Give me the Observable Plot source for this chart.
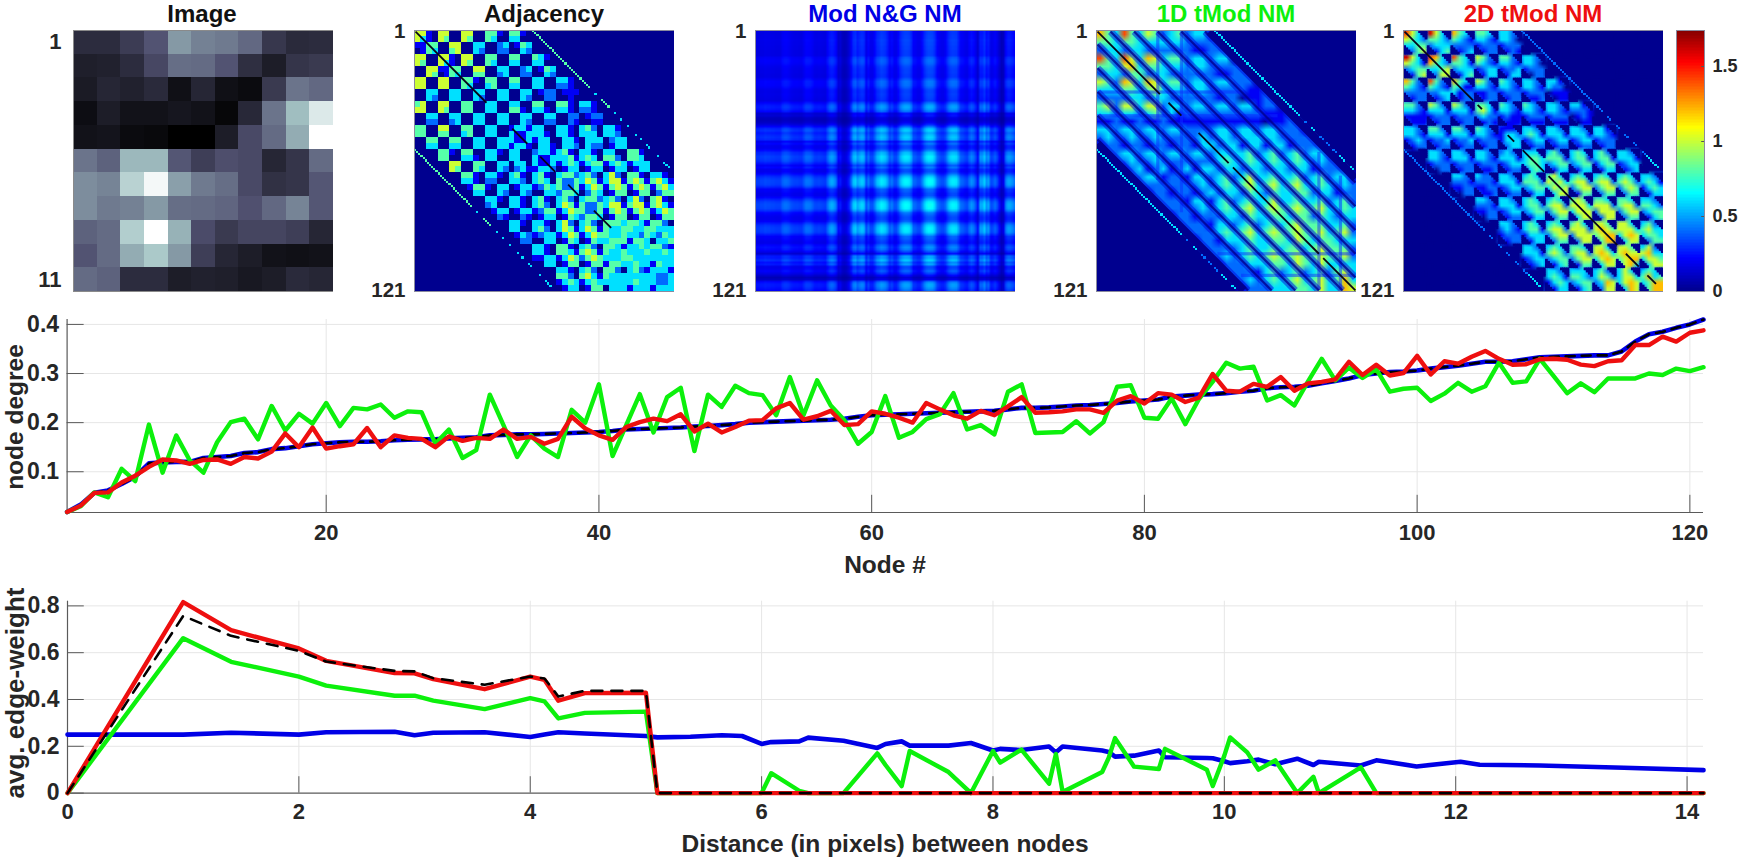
<!DOCTYPE html>
<html><head><meta charset="utf-8">
<script src="https://cdn.jsdelivr.net/npm/d3@7"></script>
<script src="https://cdn.jsdelivr.net/npm/@observablehq/plot@0.6"></script>
<style>
html,body{margin:0;padding:0;background:#fff}
#page{position:relative;width:1738px;height:859px;overflow:hidden;font-family:"Liberation Sans",Arial,sans-serif;font-weight:700;color:#262626}
#page svg{position:absolute}
.lab{position:absolute;white-space:nowrap;line-height:1}
</style></head><body><div id="page"></div>
<script>
// NOTE: the heatmap values are APPROXIMATE eyeball readings. The matrices have 121x121 cells, too fine
// to read individually, so each is stored as a coarse grid of tiles per 11-node block (digit d = value d*0.2).
// The Mod N&G panel is the product of one 121-value profile read from its stripes.
const panelTitles = ["Image","Adjacency","Mod N&G NM","1D tMod NM","2D tMod NM"];

const imageValues = [
[.20,.20,.27,.37,.60,.52,.50,.44,.25,.19,.20],
[.14,.15,.20,.32,.46,.45,.37,.21,.13,.24,.26],
[.12,.17,.15,.19,.07,.17,.07,.05,.26,.48,.44],
[.06,.13,.08,.08,.10,.08,.03,.18,.48,.72,.90],
[.08,.09,.05,.04,.00,.00,.13,.33,.45,.66,1.0],
[.48,.42,.70,.70,.38,.28,.35,.33,.17,.24,.45],
[.56,.53,.80,.97,.62,.50,.46,.33,.22,.24,.38],
[.56,.50,.52,.60,.46,.45,.43,.36,.44,.53,.38],
[.42,.45,.78,1.0,.68,.34,.26,.31,.31,.28,.17],
[.37,.45,.66,.76,.60,.28,.17,.13,.08,.07,.08],
[.45,.42,.20,.20,.13,.15,.14,.11,.13,.19,.17]];

const adjTiles = [
"5510/5310/1144/0143 5500/5400/0055/0045 5500/5400/0033/0032 4410/4300/0023/0022 4410/3300/0143/0032 . . . . . .",
"5500/5400/0055/0054 5510/5310/1144/0143 5500/5400/0055/0044 4400/4300/0033/0023 4400/3300/0023/0022 4310/3300/0143/0032 . . . . .",
"5500/5500/0033/0032 5500/5500/0033/0033 4410/4300/0033/0032 4400/3400/0033/0033 4400/3300/0033/0032 3300/3300/0122/0022 3310/2210/0111/0010 . . . .",
"4500/5500/0033/0022 5500/5400/0033/0023 4400/4400/0033/0033 3300/3300/0033/0033 3300/4410/0033/0032 4400/3310/0033/0022 4410/3310/0022/0021 3310/2210/0122/0011 . . .",
"4400/4400/0044/0033 5500/4400/0044/0033 4400/3400/0033/0033 3300/3300/0033/0033 1331/3113/3113/1331 3300/3310/1330/0331 3310/3310/0331/0332 3420/3330/0333/0322 3310/3320/0233/0133 . .",
". 4410/4400/0055/0054 4400/3310/0044/0043 3310/3300/0033/0032 3300/3300/0330/0231 2331/3113/3113/1332 3410/3341/1343/0133 3310/3430/1344/0133 3300/4420/1343/0133 4410/4430/1333/0133 .",
". . 4410/3310/0144/0033 3310/2200/1033/0032 3410/3320/0133/0032 3410/3430/1243/0033 3442/4224/4224/2443 3420/3541/1354/0243 3520/3551/1454/0144 4410/4541/1454/0144 3310/4531/1453/0244",
". . . 3310/2300/0133/0021 3310/3310/0133/0021 3410/3420/1244/0133 3420/3541/1354/0143 3442/4224/4224/2443 3420/3551/1454/0144 3520/4551/1454/0144 4510/4531/1354/0144",
". . . . 3310/3300/0132/0022 3310/3420/1233/0033 3520/3541/1354/0143 3420/3541/1354/0143 4443/4334/4334/3444 4431/4334/3324/1443 4420/4333/3243/0334",
". . . . . 3310/3310/1133/0033 4410/4431/1354/0144 3420/4541/2454/0144 4431/4334/3334/1443 3343/3334/4333/3433 4421/3343/3333/1433",
". . . . . . 3310/4420/1343/0133 3420/4531/1343/0144 4420/4333/3333/0333 3421/3333/3433/1333 3331/3223/3223/1333"];

// one read level for each node of the Mod N&G stripes (11 nodes per row)
const modProfile = [
.40,.40,.41,.41,.43,.42,.42,.41,.41,.40,.40,
.40,.47,.50,.50,.48,.44,.42,.41,.41,.40,.40,
.46,.52,.52,.51,.47,.42,.41,.42,.41,.40,.39,
.50,.60,.64,.60,.52,.30,.32,.22,.20,.24,.34,
.50,.68,.72,.62,.68,.72,.68,.44,.54,.44,.44,
.54,.68,.72,.78,.76,.72,.62,.48,.54,.44,.44,
.54,.68,.76,.80,.80,.78,.68,.50,.48,.44,.44,
.54,.68,.78,.82,.82,.80,.70,.54,.48,.44,.44,
.50,.64,.74,.78,.78,.76,.64,.50,.48,.44,.42,
.52,.58,.54,.44,.30,.62,.62,.72,.58,.62,.42,
.44,.50,.42,.30,.18,.24,.54,.62,.62,.58,.52];

const oneDTiles = [
"643/443/233 743/443/233 542/333/222 342/332/222 331/222/112 000/200/220 . . . . .",
"743/443/233 753/563/244 653/443/233 442/332/222 332/332/222 330/222/112 000/200/220 . . . .",
"542/333/222 653/443/233 653/453/233 442/332/222 332/332/222 332/222/122 220/211/011 000/200/220 . . .",
"452/332/112 553/332/112 552/342/112 332/312/111 332/222/111 332/222/111 331/222/111 220/111/011 000/200/220 . .",
"332/232/122 332/232/122 332/232/122 332/222/122 222/232/133 332/332/233 332/333/133 332/332/133 221/222/122 000/200/220 .",
"022/002/000 332/232/123 332/232/123 332/222/123 332/222/133 333/343/233 342/343/233 342/343/233 342/343/233 332/232/122 000/200/220",
". 022/002/000 331/222/122 221/222/122 332/232/123 342/343/233 353/453/243 343/453/243 342/453/344 342/343/233 331/232/122",
". . 022/002/000 221/222/122 331/232/122 342/343/233 343/453/243 353/454/344 343/454/344 342/453/243 342/343/233",
". . . 022/002/000 221/222/122 332/343/133 342/453/343 343/454/344 454/454/354 443/453/344 342/452/333",
". . . . 022/002/000 222/232/122 343/343/233 343/454/344 443/454/354 454/454/353 442/452/333",
". . . . . 022/002/000 221/232/122 342/343/233 342/453/344 342/453/353 453/463/365"];

const twoDTiles = [
"7530/5432/3344/0245 8531/4432/2333/0134 6430/4321/2222/0123 4430/3321/1222/0122 3320/3320/1222/0121 . . . . . .",
"8531/5431/2344/0145 7630/6432/3345/0255 7430/4431/2333/0134 5420/4321/1233/0133 4420/3321/1223/0133 3320/3320/1222/0022 . . . . .",
"6420/4321/2222/0122 7420/4321/2233/0123 6430/4311/3122/0122 5420/3321/1122/0122 4320/3321/1222/0122 3320/3321/1222/0112 3310/3220/0111/0011 . . . .",
"4420/3321/1111/0111 5420/3331/1222/0122 5420/3331/1222/0122 4431/4531/2322/1121 4320/3321/1211/0111 4320/3321/1222/0111 3320/3321/1222/0111 3310/2221/0121/0011 . . .",
"3320/3321/1232/0122 4420/3331/1223/0122 4420/3331/1223/0122 4320/3321/1222/0122 1110/1332/1333/0233 3320/3431/1233/0122 3320/3331/1233/0122 3320/3331/1233/0122 3310/3321/1222/0122 . .",
". 3320/3321/1222/0022 3320/3331/1222/0122 3320/3321/1222/0112 2320/3331/1233/0122 3331/3443/3443/1343 3420/4441/2344/0133 3430/3441/2344/0133 3420/3441/1344/0133 3320/3331/1233/0123 .",
". . 3320/2221/1122/0022 3220/2221/1122/0112 3320/3331/1233/0122 3430/4442/2344/0133 4531/5453/3545/1355 3430/4552/2455/0144 3430/4552/2455/0244 3430/4542/2454/0244 3320/3431/1343/0133",
". . . 3320/2221/1122/0022 3320/3331/1233/0122 3430/3442/2344/0133 3430/4552/2455/0244 4541/5553/3555/1355 4430/5552/2555/0255 4430/4552/2455/0244 3320/4432/2344/0134",
". . . . 3320/2321/1222/0122 3430/3441/1333/0133 3430/4552/2455/0244 4530/5552/2555/0255 5542/5654/4566/2466 5531/5553/3565/1355 3420/4533/3443/0244",
". . . . . 3320/3331/1233/0123 3430/4542/2344/0134 4430/4552/2455/0144 5531/5653/3565/1355 5543/5655/4566/3563 3521/5633/3554/1355",
". . . . . . 3320/3431/1343/0133 3330/4432/2344/0134 3420/3542/2365/0255 3531/3553/3565/1365 3432/4634/3466/2466"];

// level of the thin line at node offset 55, one digit per node 1..66
const adjLine55 = "444444444444444444444444444003004444003003003000303003300030033300";
const oneDLine55 = "333333333333333333333333333333333333333300200330022022022033300330";
const twoDLine55 = "222222222222222222222222222222222222220022002200220022002233333300";
// dark diagonals of the 1D panel, bars of low nodes [node, first, last], and stretches of black main diagonal
const oneDDarkOffsets = [6,17,28,39,50];
const oneDEdges = [[52,8],[60,16]];
const oneDBars = [[29,1,70],[40,1,85],[104,57,121],[114,68,121]];
const adjDiag = [[1,34],[46,53],[59,66],[72,77],[84,92]];
const oneDDiag = [[1,30],[34,40],[48,62],[64,104],[106,121]];
const twoDDiag = [[1,33],[35,37],[49,52],[56,66],[68,100],[104,110],[114,118]];
// in the 2D panel each block's off-diagonal corners are empty beyond this many nodes from its diagonal
const twoDCornerCut = 6;

const nodes = d3.range(1,122);
const degreeBlue = [.018,.033,.057,.062,.075,.09,.117,.119,.12,.12,.128,.13,.132,.138,.14,.146,.148,.152,.156,.158,.16,.161,.161,.162,.164,.165,.166,.166,.168,.169,.17,.174,.175,.176,.176,.177,.178,.179,.18,.181,.183,.186,.187,.188,.189,.19,.192,.193,.195,.197,.2,.201,.202,.203,.204,.205,.206,.208,.212,.215,.216,.217,.218,.219,.22,.221,.222,.223,.224,.227,.23,.23,.231,.233,.235,.236,.238,.24,.243,.245,.247,.253,.255,.257,.258,.26,.263,.265,.27,.272,.273,.275,.28,.285,.29,.297,.3,.303,.304,.306,.31,.313,.316,.32,.324,.324,.325,.329,.333,.334,.335,.336,.337,.337,.345,.365,.38,.385,.393,.4,.41];
const degreeGreen = [.018,.03,.058,.048,.106,.081,.196,.098,.174,.123,.098,.16,.201,.208,.166,.234,.184,.218,.198,.24,.193,.23,.227,.237,.21,.223,.221,.157,.186,.128,.144,.257,.195,.13,.174,.147,.13,.226,.2,.278,.132,.195,.258,.18,.252,.271,.142,.257,.232,.275,.26,.256,.215,.293,.215,.286,.235,.205,.157,.181,.254,.169,.181,.207,.217,.26,.186,.195,.176,.263,.278,.179,.18,.181,.203,.178,.201,.273,.276,.21,.208,.249,.197,.248,.283,.322,.31,.314,.245,.256,.235,.284,.33,.286,.312,.291,.309,.263,.269,.271,.244,.259,.281,.263,.274,.322,.281,.284,.33,.295,.26,.28,.262,.29,.29,.29,.30,.297,.31,.305,.313];
const degreeRed = [.018,.031,.057,.058,.078,.092,.11,.125,.123,.116,.124,.125,.116,.13,.127,.141,.178,.15,.19,.147,.152,.156,.189,.15,.174,.169,.167,.15,.172,.163,.169,.167,.186,.167,.171,.157,.167,.212,.188,.174,.165,.191,.201,.208,.203,.217,.182,.198,.18,.191,.204,.205,.229,.24,.206,.213,.224,.195,.197,.223,.218,.21,.2,.24,.227,.215,.208,.224,.215,.233,.252,.22,.221,.223,.227,.227,.22,.245,.254,.239,.26,.257,.242,.251,.299,.265,.263,.279,.273,.293,.265,.28,.283,.288,.324,.297,.318,.296,.301,.336,.298,.325,.32,.334,.346,.33,.318,.319,.329,.33,.328,.318,.315,.325,.327,.358,.358,.375,.365,.383,.388];

const distances = [0,1,1.414,2,2.236,2.828,3,3.162,3.606,4,4.123,4.243,4.472,5,5.099,5.385,5.657,5.831,6,6.083,6.325,6.403,6.708,7,7.071,7.211,7.28,7.616,7.81,8,8.062,8.246,8.485,8.544,8.602,8.944,9,9.055,9.22,9.434,9.487,9.849,9.9,10,10.05,10.198,10.296,10.44,10.63,10.77,10.817,11.18,11.314,11.402,11.662,12.042,12.207,12.728,12.806,13.454,14.142];
const weightBlue = [.25,.25,.258,.25,.26,.262,.247,.258,.26,.24,.25,.26,.255,.244,.238,.241,.247,.244,.21,.218,.221,.237,.224,.193,.21,.221,.203,.203,.214,.182,.189,.184,.199,.174,.199,.182,.176,.156,.16,.182,.153,.15,.149,.136,.128,.136,.143,.123,.147,.12,.134,.118,.14,.134,.114,.134,.121,.118,.117,.108,.098];
const weightGreen = [0,.662,.561,.498,.459,.416,.416,.395,.359,.406,.392,.319,.343,.348,0,0,0,0,0,.085,.01,0,0,.17,.12,.03,.18,.09,0,.18,.13,.186,.04,.167,.005,.09,.15,.235,.113,.103,.189,.1,.03,.16,.238,.174,.1,.14,0,.07,0,.11,0,0,0,0,0,0,0,0,0];
const weightRed = [0,.816,.696,.618,.565,.513,.512,.487,.444,.498,.484,.395,.427,.429,0,0,0,0,0,0,0,0,0,0,0,0,0,0,0,0,0,0,0,0,0,0,0,0,0,0,0,0,0,0,0,0,0,0,0,0,0,0,0,0,0,0,0,0,0,0,0];
const weightBlack = [0,.757,.672,.608,.562,.522,.52,.491,.463,.498,.49,.413,.437,.437,0,0,0,0,0,0,0,0,0,0,0,0,0,0,0,0,0,0,0,0,0,0,0,0,0,0,0,0,0,0,0,0,0,0,0,0,0,0,0,0,0,0,0,0,0,0,0];

const INK="#262626", AXIS="#5a5a5a", GRID="#e6e6e6";
const BLUE="#0000e6", GREEN="#0cf00c", RED="#ee0f0f";
const NAVY="#00008f";
const jet = {type:"linear",clamp:true,domain:[0,.2175,.6525,1.0875,1.5225,1.74],
  range:["#00008f","#0000ff","#00ffff","#ffff00","#ff0000","#800000"]};
const bone = {type:"linear",clamp:true,domain:[0,.365,.746,1],range:["#000000","#515171","#a6c6c6","#ffffff"]};
const base = {background:"transparent",fontFamily:"Liberation Sans, Arial, sans-serif",fontWeight:700,color:INK};
const page = document.getElementById("page");

function place(svg,left,top){svg.style.left=left+"px";svg.style.top=top+"px";page.appendChild(svg);}
function label(text,x,y,size,color=INK,rot=0){
  const d=document.createElement("div");d.className="lab";d.textContent=text;
  d.style.left=x+"px";d.style.top=y+"px";d.style.fontSize=size+"px";d.style.color=color;
  d.style.transform=`translate(-50%,-50%) rotate(${rot}deg)`;page.appendChild(d);
}
function tilesToGrid(rows,cornerDigit=0){
  const sub=rows.join(" ").split(/\s+/).find(t=>t!==".").split("/").length, n=11*sub;
  const g=new Array(n*n).fill(0);
  rows.forEach((row,I)=>row.trim().split(/\s+/).forEach((t,J)=>{
    if(t===".")return;
    t.split("/").forEach((r,s)=>[...r].forEach((c,u)=>{
      const corner=(s===0&&u===sub-1)||(s===sub-1&&u===0);
      g[(I*sub+s)*n+J*sub+u]=(corner&&c==="0"?cornerDigit:+c)*0.2;}));
  }));
  return {n,g};
}
function gridCells({n,g}){
  const f=121/n;
  return g.map((v,i)=>({v,x1:.5+(i%n)*f,x2:.5+(i%n+1)*f,y1:.5+Math.floor(i/n)*f,y2:.5+(Math.floor(i/n)+1)*f})).filter(d=>d.v>0);
}
function lineCells(str){
  const out=[];[...str].forEach((c,i)=>{const v=+c*0.2;if(v>0){const a=i+1,b=i+56;
    out.push({v,x1:a-.5,x2:a+.5,y1:b-.5,y2:b+.5},{v,x1:b-.5,x2:b+.5,y1:a-.5,y2:a+.5});}});
  return out;
}
function cornerMask(cut){
  const out=[];
  for(let I=0;I<11;I++)for(let J=0;J<11;J++)for(let s=0;s<11;s++)for(let t=0;t<11;t++)
    if(Math.abs(t-s)>cut)out.push({x:J*11+t+1,y:I*11+s+1});
  return out;
}
function matrixPanel(left,marks){
  const svg=Plot.plot({width:310,height:300,marginLeft:50,marginRight:0,marginTop:20,marginBottom:19,style:base,clip:true,
    x:{domain:[.5,121.5],axis:null},y:{domain:[121.5,.5],axis:null},color:jet,
    marks:[Plot.frame({fill:NAVY,stroke:"none"}),...marks,
      Plot.axisY({ticks:[1,121],tickSize:0,tickPadding:9,fontSize:20.5,fontWeight:700,label:null,tickFormat:d=>d,clip:false}),
      Plot.frame({stroke:"#8a8a9e",strokeWidth:1})]});
  place(svg,left-50,10);
}
const rectOf=(cells)=>Plot.rect(cells,{x1:"x1",x2:"x2",y1:"y1",y2:"y2",fill:"v",inset:0,shapeRendering:"crispEdges"});
const rasterOf=({n,g})=>Plot.raster(g,{width:n,height:n,x1:.5,x2:121.5,y1:.5,y2:121.5,fill:d=>d});
const diagOf=(ranges)=>Plot.link(ranges,{x1:d=>d[0],y1:d=>d[0],x2:d=>d[1],y2:d=>d[1],stroke:"#05051a",strokeWidth:1.8});
const offsetLinks=(data,off,style)=>[
  Plot.link(data,{x1:1,y1:d=>1+off(d),x2:d=>121-off(d),y2:121,...style}),
  Plot.link(data,{y1:1,x1:d=>1+off(d),y2:d=>121-off(d),x2:121,...style})];

// Image panel
{
  const cells=imageValues.flatMap((r,i)=>r.map((v,j)=>({v,x1:j+.5,x2:j+1.5,y1:i+.5,y2:i+1.5})));
  const svg=Plot.plot({width:310,height:300,marginLeft:50,marginRight:0,marginTop:20,marginBottom:19,style:base,
    x:{domain:[.5,11.5],axis:null},y:{domain:[11.5,.5],axis:null},color:bone,
    marks:[Plot.rect(cells,{x1:"x1",x2:"x2",y1:"y1",y2:"y2",fill:"v",shapeRendering:"crispEdges"}),
      Plot.axisY({ticks:[1,11],tickSize:0,tickPadding:12,fontSize:22,fontWeight:700,label:null,tickFormat:d=>d}),
      Plot.frame({stroke:"#8a8a8a",strokeWidth:1})]});
  place(svg,72.5-50,10);
}
matrixPanel(414,[rectOf(gridCells(tilesToGrid(adjTiles))),rectOf(lineCells(adjLine55)),diagOf(adjDiag)]);
{
  const g=[];modProfile.forEach(a=>modProfile.forEach(b=>g.push(a*b)));
  matrixPanel(755,[rasterOf({n:121,g})]);
}
matrixPanel(1096,[rasterOf(tilesToGrid(oneDTiles)),
  Plot.rect(oneDBars,{x1:d=>d[0]-.5,x2:d=>d[0]+1,y1:d=>d[1],y2:d=>d[2],fill:"#0a2cff",fillOpacity:.5}),
  Plot.rect(oneDBars,{y1:d=>d[0]-.5,y2:d=>d[0]+1,x1:d=>d[1],x2:d=>d[2],fill:"#0a2cff",fillOpacity:.5}),
  ...offsetLinks(oneDDarkOffsets,d=>d,{stroke:"#0008e0",strokeWidth:7,strokeOpacity:.5}),
  ...offsetLinks(oneDDarkOffsets,d=>d,{stroke:NAVY,strokeWidth:2.2,strokeOpacity:.8}),
  ...offsetLinks(oneDEdges,d=>d[0],{stroke:NAVY,strokeWidth:d=>d[1]}),
  rectOf(lineCells(oneDLine55)),diagOf(oneDDiag)]);
matrixPanel(1403,[rasterOf(tilesToGrid(twoDTiles,2)),
  Plot.dot(cornerMask(twoDCornerCut),{x:"x",y:"y",symbol:"square",r:1.6,fill:NAVY}),
  rectOf(lineCells(twoDLine55)),diagOf(twoDDiag)]);

// colour bar
{
  const levels=d3.range(0,1.74,.01);
  const svg=Plot.plot({width:70,height:300,marginLeft:0,marginRight:42,marginTop:20,marginBottom:19,style:base,
    x:{domain:[0,1],axis:null},y:{domain:[0,1.74],axis:null},color:jet,
    marks:[Plot.rect(levels,{x1:0,x2:1,y1:d=>d,y2:d=>d+.012,fill:d=>d,shapeRendering:"crispEdges"}),
      Plot.axisY({anchor:"right",ticks:[0,.5,1,1.5],tickSize:0,tickPadding:8,fontSize:18,fontWeight:700,label:null,tickFormat:d=>d}),
      Plot.ruleY([.5,1,1.5],{x1:.9,x2:1,stroke:"#555"}),
      Plot.frame({stroke:"#8a8a9e",strokeWidth:1})]});
  place(svg,1676,10);
}

// node degree
{
  const xT=[20,40,60,80,100,120],yT=[.1,.2,.3,.4];
  const xy={x:(d,i)=>nodes[i],y:d=>d};
  const svg=Plot.plot({width:1738,height:285,marginLeft:66.6,marginRight:35,marginTop:19,marginBottom:73,style:base,
    x:{domain:[1,121],axis:null},y:{domain:[.017,.41],axis:null},
    marks:[
      Plot.ruleY(yT,{stroke:GRID}),Plot.ruleX(xT,{stroke:GRID}),
      Plot.ruleY(yT,{x1:1,x2:2.25,stroke:AXIS}),Plot.ruleX(xT,{y1:.017,y2:.052,stroke:AXIS}),
      Plot.ruleX([1],{stroke:AXIS,strokeWidth:1.2}),Plot.ruleY([.017],{stroke:AXIS,strokeWidth:1.2}),
      Plot.axisX({ticks:xT,tickSize:0,tickPadding:12,fontSize:22,fontWeight:700,label:null}),
      Plot.axisY({ticks:yT,tickSize:0,tickPadding:8,fontSize:23,fontWeight:700,label:null,tickFormat:d3.format(".1f")}),
      Plot.line(degreeBlue,{...xy,stroke:BLUE,strokeWidth:4.6}),
      Plot.line(degreeBlue,{...xy,stroke:"#000",strokeWidth:2.6,strokeDasharray:"9,7"}),
      Plot.line(degreeGreen,{...xy,stroke:GREEN,strokeWidth:4.4}),
      Plot.line(degreeRed,{...xy,stroke:RED,strokeWidth:4.4})]});
  place(svg,0,300);
}
// avg edge weight
{
  const xT=[0,2,4,6,8,10,12,14],yT=[0,.2,.4,.6,.8];
  const xy={x:(d,i)=>distances[i],y:d=>d};
  const svg=Plot.plot({width:1738,height:250,marginLeft:67,marginRight:35,marginTop:10.7,marginBottom:47.4,style:base,
    x:{domain:[0,14.142],axis:null},y:{domain:[0,.82],axis:null},
    marks:[
      Plot.ruleY(yT.slice(1),{stroke:GRID}),Plot.ruleX(xT.slice(1),{stroke:GRID}),
      Plot.ruleY(yT,{x1:0,x2:.145,stroke:AXIS}),Plot.ruleX(xT,{y1:0,y2:.07,stroke:AXIS}),
      Plot.ruleX([0],{stroke:AXIS,strokeWidth:1.2}),Plot.ruleY([0],{stroke:AXIS,strokeWidth:1.2}),
      Plot.axisX({ticks:xT,tickSize:0,tickPadding:10,fontSize:22,fontWeight:700,label:null,tickFormat:d=>d}),
      Plot.axisY({ticks:yT,tickSize:0,tickPadding:8,fontSize:23,fontWeight:700,label:null,tickFormat:d=>d===0?"0":d3.format(".1f")(d)}),
      Plot.line(weightBlue,{...xy,stroke:BLUE,strokeWidth:4.6}),
      Plot.line(weightGreen,{...xy,stroke:GREEN,strokeWidth:4.4}),
      Plot.line(weightRed,{...xy,stroke:RED,strokeWidth:4.4}),
      Plot.line(weightBlack,{...xy,stroke:"#000",strokeWidth:2.6,strokeDasharray:"11,9"})]});
  place(svg,0,590);
}
// titles and axis labels
const titleX=[202,544,885,1226,1533], titleC=["#111","#111",BLUE,GREEN,RED];
titleX.forEach((x,i)=>label(panelTitles[i],x,14,24,titleC[i]));
label("node degree",15,417,24.5,INK,-90);
label("Node #",885,565,24.5);
label("avg. edge-weight",15,693,26,INK,-90);
label("Distance (in pixels) between nodes",885,844,24.5);
</script></body></html>
